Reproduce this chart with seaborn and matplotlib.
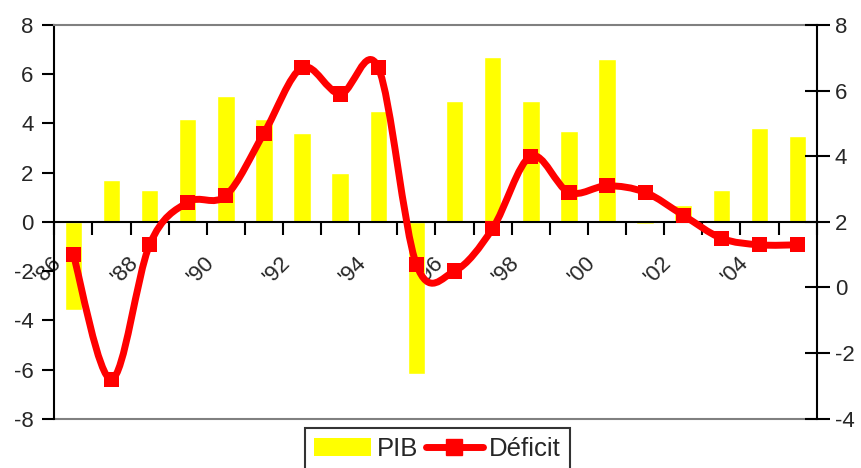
import numpy as np
import pandas as pd
import matplotlib
matplotlib.use('Agg')
import matplotlib.pyplot as plt
import matplotlib.transforms as mtransforms
from matplotlib.path import Path
from matplotlib.patches import PathPatch, Patch
from matplotlib.lines import Line2D
import seaborn as sns

# Données
years = list(range(1986, 2006))
pib = [-3.6, 1.7, 1.3, 4.2, 5.1, 4.2, 3.6, 2.0, 4.5, -6.2,
       4.9, 6.7, 4.9, 3.7, 6.6, -0.1, 0.7, 1.3, 3.8, 3.5]
deficit = [1.0, -2.8, 1.3, 2.6, 2.8, 4.7, 6.7, 5.9, 6.7, 0.7,
           0.5, 1.8, 4.0, 2.9, 3.1, 2.9, 2.2, 1.5, 1.3, 1.3]
tick_labels = ["'86", "'88", "'90", "'92", "'94", "'96", "'98", "'00", "'02", "'04"]

df = pd.DataFrame({'year': years, 'pib': pib, 'deficit': deficit})

sns.set_style('white')
plt.rcParams['font.family'] = ['Liberation Sans', 'DejaVu Sans']
plt.rcParams['font.size'] = 16
plt.rcParams['axes.unicode_minus'] = False

fig = plt.figure(figsize=(8.62, 4.68), dpi=100)
ax = fig.add_axes([0.063, 0.1053, 0.8844, 0.8413])

# Barres PIB
sns.barplot(data=df, x='year', y='pib', color='#FFFF00', saturation=1,
            width=0.46, errorbar=None, ax=ax)
ax.set_xlabel('')
ax.set_ylabel('')

# Axe de droite : Déficit
ax2 = ax.twinx()

# Courbe lissée (style Excel)
xs = np.arange(len(deficit), dtype=float)
pts = np.column_stack([xs, np.array(deficit, dtype=float)])
n = len(pts)
verts = [pts[0]]
codes = [Path.MOVETO]
for i in range(n - 1):
    p0 = pts[i - 1] if i > 0 else pts[i]
    p1 = pts[i]
    p2 = pts[i + 1]
    p3 = pts[i + 2] if i + 2 < n else pts[i + 1]
    verts += [p1 + (p2 - p0) / 6, p2 - (p3 - p1) / 6, p2]
    codes += [Path.CURVE4] * 3
curve = PathPatch(Path(verts, codes), facecolor='none', edgecolor='#FF0000',
                  lw=5, capstyle='round', joinstyle='round',
                  transform=ax2.transData, zorder=3)
ax2.add_patch(curve)
sns.scatterplot(x=xs, y=deficit, marker='s', s=120, color='#FF0000',
                edgecolor='none', ax=ax2, zorder=4, legend=False)

# Bordures (avant les ticks : set_position réinitialise les ticks)
ax.spines['bottom'].set_position(('data', 0))
ax.spines['bottom'].set_color('black')
ax.spines['bottom'].set_linewidth(1.5)
ax.spines['left'].set_color('black')
ax.spines['left'].set_linewidth(1.5)
ax.spines['top'].set_color('#808080')
ax.spines['top'].set_linewidth(1.5)
ax.spines['right'].set_visible(False)
ax.axhline(-8, color='#808080', lw=1.5, clip_on=False)
for side in ['top', 'bottom', 'left']:
    ax2.spines[side].set_visible(False)
ax2.spines['right'].set_color('black')
ax2.spines['right'].set_linewidth(1.5)

# Axes
ax.set_xlim(-0.5, 19.5)
ax.set_ylim(-8, 8)
ax.set_yticks(range(-8, 9, 2))
ax2.set_ylim(-4, 8)
ax2.set_yticks(range(-4, 9, 2))

ax.set_xticks(np.arange(-0.5, 20, 1), minor=True)
ax.set_xticks(range(0, 20, 2))
ax.set_xticklabels(tick_labels)
ax.tick_params(axis='x', which='major', length=0, pad=6, labelsize=16,
               labelrotation=45)
ax.tick_params(axis='x', which='minor', length=9, width=1.5,
               direction='out', color='black', bottom=True)
ax.tick_params(axis='y', length=9, width=1.5, direction='out',
               color='black', left=True, labelsize=16, pad=6)
ax2.tick_params(axis='y', length=18, width=1.5, direction='inout',
                color='black', right=True, labelsize=16, pad=4)
shift = mtransforms.ScaledTranslation(-0.22, -0.22, fig.dpi_scale_trans)
for lbl in ax.get_xticklabels():
    lbl.set_horizontalalignment('right')
    lbl.set_verticalalignment('top')
    lbl.set_rotation_mode('anchor')
    lbl.set_transform(lbl.get_transform() + shift)

# Légende
handles = [Patch(facecolor='#FFFF00', edgecolor='none', label='PIB'),
           Line2D([], [], color='#FF0000', lw=5, marker='s', markersize=11,
                  label='Déficit')]
leg = fig.legend(handles=handles, loc='upper center',
                 bbox_to_anchor=(0.5075, 1 - 428 / 468), ncol=2,
                 frameon=True, fancybox=False, edgecolor='black',
                 fontsize=18.5, handlelength=2.2, handletextpad=0.25,
                 columnspacing=0.3, borderpad=0.35, borderaxespad=0)
leg.get_frame().set_linewidth(1.5)

fig.savefig('out.png', dpi=100)
